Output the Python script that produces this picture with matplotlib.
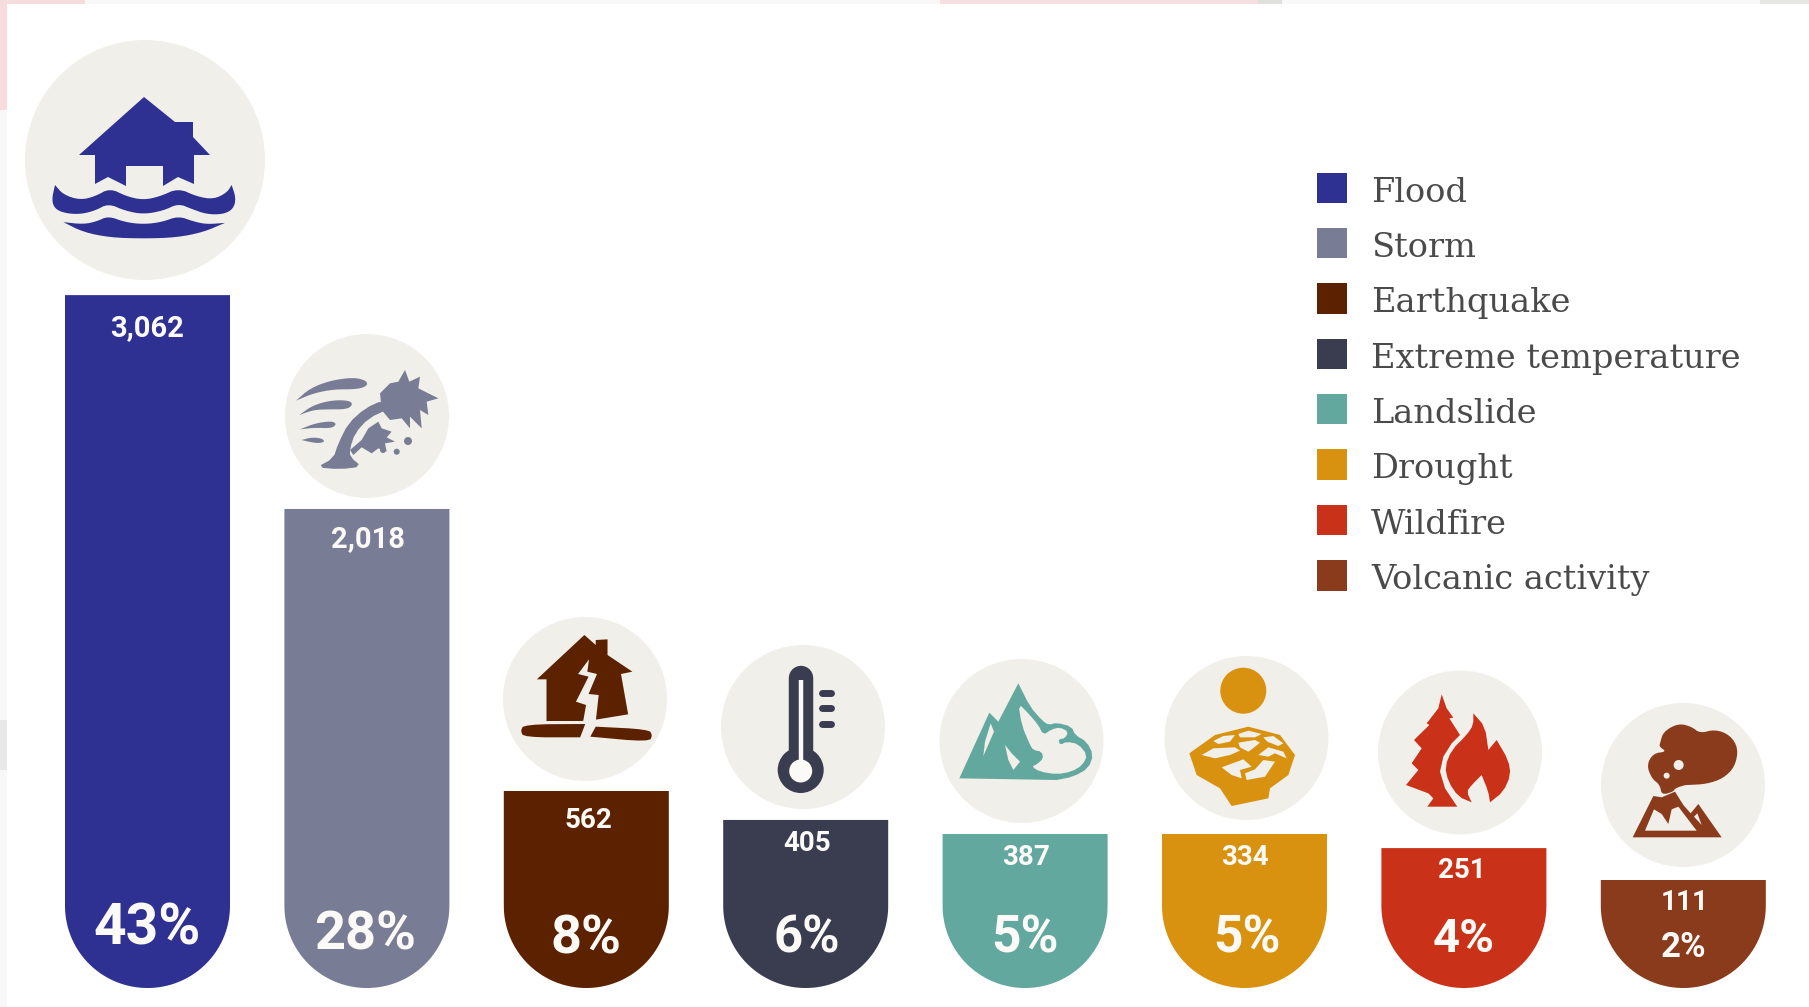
import numpy as np
import matplotlib; matplotlib.use("Agg"); import matplotlib.pyplot as plt
from matplotlib.patches import Circle, Polygon, Patch, Rectangle
from matplotlib.legend_handler import HandlerPatch

# --- data ---
hazards=["Flood","Storm","Earthquake","Extreme temperature","Landslide","Drought","Wildfire","Volcanic activity"]
counts=["3,062","2,018","562","405","387","334","251","111"]
shares=["43%","28%","8%","6%","5%","5%","4%","2%"]
# the bars are not quite to scale with their labels, so these are the levels the bar tops reach
bar_levels=[3062,1983,560,414,343,343,272,111]

# --- style ---
COL=["#2e3192","#787c94","#5c2200","#3a3d50","#62a89f","#d9920f","#c93118","#8a3b1c"]
BG="#f0efe9"; INK="#fbfaf6"; PXU=0.1982; W=165/219.4; BASE=-434; ARC=414
count_fs=[21,21,20,20,20,20,20,20]; count_drop=[33,30,29,24,23,23,22,23]; count_dx=[0,1,2,1,1,0,-2,1]
share_fs=[41,39,39,36.5,37,37,34,25]; share_up=[59.5,53.5,49.5,49.5,49.5,49.5,49.5,40.5]; share_dx=[0,-2,0,1,0,2,0,0]  # px
SANS=["Roboto","DejaVu Sans"]

fig=plt.figure(figsize=(18.09,10.07),dpi=100,facecolor="white")
ax=fig.add_axes([0,0,1,1]); ax.axis("off")
ax.set_xlim(-147.5/219.4,(1809-147.5)/219.4); ax.set_ylim((988-1007-86)/PXU,(988-86)/PXU)
deco=fig.add_axes([0,0,1,1],facecolor="none"); deco.axis("off"); deco.set_xlim(0,1809); deco.set_ylim(1007,0)

# screenshot edge
for x,y,w,h,k in [(0,0,1809,4,"#f8f8f8"),(0,0,85,4,"#f6dcdd"),(940,0,318,4,"#f5dfe0"),(1258,0,24,4,"#dfdfdc"),(1760,0,49,4,"#e6e6e4"),
                  (0,0,7,1007,"#f8f8f8"),(0,0,7,110,"#f6dcdd"),(0,720,7,50,"#e8e8e8")]:
    deco.add_patch(Rectangle((x,y),w,h,color=k,lw=0))

# bars with a rounded foot
th=np.linspace(np.pi,2*np.pi,60)
for i,(lv,c) in enumerate(zip(bar_levels,COL)):
    xs=np.r_[i-W/2,i+W/2*np.cos(th),i+W/2]; ys=np.r_[lv,(BASE+ARC)+ARC*np.sin(th),lv]
    ax.fill(xs,ys,color=c,lw=0)
    ax.annotate(counts[i],(i,lv),xytext=(count_dx[i],-count_drop[i]),textcoords="offset pixels",ha="center",va="center",
                color=INK,fontsize=count_fs[i],fontweight="bold",family=SANS)
    ax.annotate(shares[i],(i,BASE),xytext=(share_dx[i],share_up[i]),textcoords="offset pixels",ha="center",va="center",
                color=INK,fontsize=share_fs[i],fontweight="bold",family=SANS)

# icon plates
plates=[(145,160,120),(367,416,82),(585,699,82),(803,727,82),(1021.5,741,82),(1246.5,738,82),(1460,752.5,82),(1683,785,82)]
for cx,cy,r in plates: deco.add_patch(Circle((cx,cy),r,color=BG,lw=0))

def chaikin(p,n=2):
    p=np.array(p,float)
    for _ in range(n):
        q=np.roll(p,-1,axis=0); p=np.c_[.75*p+.25*q,.25*p+.75*q].reshape(-1,2)
    return p
def poly(p,c,x0=0,y0=0,sx=1,sy=1,smooth=0):
    p=np.array(p,float)
    if smooth: p=chaikin(p,smooth)
    deco.add_patch(Polygon(np.c_[x0+p[:,0]/sx,y0+p[:,1]/sy],closed=True,color=c,lw=0,zorder=2))
def dot(x,y,r,c): deco.add_patch(Circle((x,y),r,color=c,lw=0,zorder=4))

# flood
c=COL[0]; z=dict(x0=0,y0=0,sx=3,sy=2.8)
poly([(144,97),(175,122),(193,122),(193,137),(210,155),(194,155),(194,184),(178,177),(163,186),(163,166),(126,166),(126,186),(108,177),(95,184),(95,155),(79,155)],c)
poly([(165,518),(165,518),(190,545),(240,560),(285,550),(330,527),(380,550),(430,560),(480,550),(535,527),(590,550),(640,558),(680,540),(695,518),(695,518),
      (708,555),(700,585),(670,600),(620,600),(575,585),(535,570),(490,590),(430,600),(375,590),(325,570),(285,590),(240,600),(195,597),(165,585),(155,560)],c,smooth=2,**z)
poly([(190,622),(190,622),(250,628),(290,620),(325,605),(375,622),(430,628),(485,622),(535,605),(580,620),(620,628),(675,624),(675,624),(610,650),(530,665),(430,668),(330,665),(250,650)],c,smooth=2,**z)
# storm
c=COL[1]; z=dict(x0=290,y0=360,sx=3,sy=3)
for s in ([(18,122),(18,122),(60,85),(120,62),(190,52),(230,62),(232,78),(200,88),(130,88),(70,100)],[(28,165),(28,165),(70,135),(130,120),(180,122),(188,135),(170,148),(110,148),(70,150)],
          [(30,208),(30,208),(75,190),(125,183),(140,192),(125,205),(75,203)],[(35,240),(35,240),(65,232),(95,235),(105,245),(85,250),(55,245)]):
    poly(s,c,smooth=2,**z)
poly([(80,322),(130,295),(145,250),(175,190),(225,145),(280,120),(300,145),(235,175),(195,220),(180,265),(180,290),(215,320),(150,328)],c,smooth=1,**z)
poly([(345,30),(358,65),(390,50),(385,85),(445,115),(410,125),(415,165),(390,150),(395,205),(360,170),(360,205),(335,175),(300,180),(275,150),(270,100),(300,70),(325,65)],c,**z)
poly([(265,185),(275,205),(305,215),(290,232),(315,245),(285,250),(290,275),(265,265),(245,280),(215,262),(190,285),(180,270),(215,240),(235,205)],c,**z)
dot(408,441,4,c); dot(396.7,451.7,3,c); dot(383,450,3,c)
# earthquake
c=COL[2]; z=dict(x0=480,y0=600,sx=2.376,sy=3)
poly([(135,238),(248,105),(275,135),(275,120),(303,118),(303,165),(362,215),(335,222),(352,343),(270,360),(240,363),(158,363),(158,238)],c,**z)
poly([(259,178),(233,222),(258,230),(228,305),(252,315),(245,365),(240,412),(258,412),(275,365),(282,285),(258,282),(278,222),(255,215)],BG,**z)
poly([(250,372),(250,372),(105,373),(96,393),(105,412),(238,412),(238,412)],c,smooth=2,**z)
poly([(275,380),(275,380),(400,388),(410,405),(402,426),(262,410),(262,410)],c,smooth=2,**z)
# thermometer
c=COL[3]
deco.plot([801,801],[678,765],color=c,lw=17.6,solid_capstyle="round",zorder=2)
dot(800.7,770,23,c)
deco.plot([801,801],[680,765],color=INK,lw=3.2,solid_capstyle="butt",zorder=5)
dot(800.7,771,11.5,INK)
for y in (693,708,724): deco.plot([822,831],[y,y],color=c,lw=5,solid_capstyle="round",zorder=2)
# landslide
c=COL[4]; z=dict(x0=950,y0=670,sx=3,sy=3)
poly([(28,325),(28,325),(118,128),(118,128),(145,155),(145,155),(205,40),(205,40),(240,110),(275,150),(295,165),(320,158),(365,170),(375,195),(410,215),(430,255),(415,295),(370,320),(320,330),(320,330)],c,smooth=1,**z)
poly([(205,100),(235,130),(265,165),(280,195),(305,178),(330,172),(355,185),(345,205),(325,208),(330,225),(350,215),(385,222),(412,255),(398,285),(365,305),(320,313),(270,305),(245,290),(262,282),(280,265),(275,245),(250,240),(240,225),(215,165)],BG,smooth=1,**z)
poly([(165,225),(185,250),(210,275),(190,300),(175,270)],BG,**z); poly([(122,160),(132,185),(100,258),(105,215)],BG,**z)
# drought
c=COL[5]; z=dict(x0=1180,y0=660,sx=3,sy=3)
dot(1243.3,690.7,23,c)
poly([(28,280),(105,225),(205,200),(300,225),(345,285),(325,345),(270,385),(265,415),(155,438),(120,385),(50,345)],c,**z)
for s in ([(100,243),(130,228),(165,225),(150,245),(115,252)],[(175,222),(205,212),(245,222),(225,232),(180,232)],[(250,232),(280,228),(310,250),(295,258),(262,245)],
          [(175,248),(225,240),(240,248),(215,268),(205,275),(180,262)],[(65,285),(100,265),(165,262),(180,272),(150,285),(105,295),(85,290)],
          [(235,285),(265,262),(310,275),(320,295),(285,280),(265,290)],[(125,322),(190,298),(215,320),(180,330),(185,355),(155,345)],[(225,328),(250,300),(285,305),(255,350),(200,360),(195,340)]):
    poly(s,BG,**z)
# wildfire
c=COL[6]; z=dict(x0=1390,y0=685,sx=3,sy=3)
poly([(155,28),(170,70),(190,98),(178,100),(210,150),(185,175),(160,215),(150,260),(165,310),(195,355),(202,365),(112,365),(130,340),(115,325),(48,300),(85,255),(65,235),(95,190),(72,165),(118,120),(110,115),(145,70)],c,**z)
poly([(250,85),(250,85),(285,125),(295,195),(295,195),(320,165),(320,165),(355,225),(362,270),(340,320),(300,352),(300,352),(295,320),(275,270),(275,270),(245,300),(230,320),(245,352),(245,352),(205,335),(175,290),(165,245),(185,195),(230,150),(250,120)],c,smooth=1,**z)
# volcano
c=COL[7]; z=dict(x0=1620,y0=710,sx=3,sy=3)
poly([(120,100),(130,65),(175,40),(215,50),(240,70),(285,58),(330,75),(355,115),(345,170),(310,205),(260,222),(205,225),(195,225),(165,235),(160,245),(125,255),(120,225),(95,205),(80,165),(100,130),(140,125),(118,110)],c,smooth=2,**z)
poly([(38,382),(100,258),(125,262),(165,245),(190,285),(212,310),(235,282),(305,382)],c,**z)
poly([(75,362),(102,298),(125,312),(145,342),(155,298),(175,290),(230,362)],BG,**z)
poly([(222,320),(232,310),(245,345)],BG,**z)
dot(1620+176/3,710+165/3,5,BG); dot(1620+140/3,710+197/3,3,BG)

# legend, squares sit a little above the text baseline
fs=24.2; fpx=fs*100/72
hnd=[Patch(facecolor=k,edgecolor="none",label=n) for k,n in zip(COL,hazards)]
deco.legend(handles=hnd,loc="upper left",bbox_to_anchor=(1317/1809,1-172.5/1007),frameon=False,borderpad=0,borderaxespad=0,
            prop=dict(family="DejaVu Serif",size=fs),labelcolor="#4a4a4a",handlelength=30/fpx,handleheight=1.27,
            handletextpad=24/fpx,labelspacing=(51-fpx*.95)/fpx,handler_map={Patch:HandlerPatch(ypad=.16)})
fig.savefig("out.png",dpi=100)
